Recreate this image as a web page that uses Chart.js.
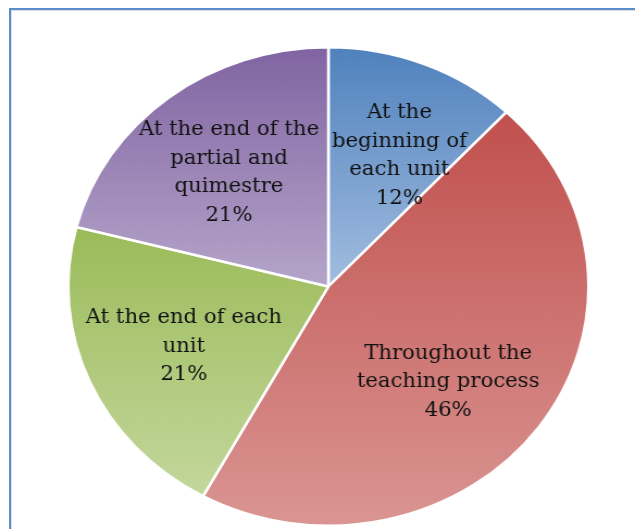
<!DOCTYPE html>
<html>
<head>
<meta charset="utf-8">
<script src="https://cdn.jsdelivr.net/npm/chart.js@4.4.0/dist/chart.umd.min.js"></script>
<style>
  html, body { margin: 0; padding: 0; background: #fff; overflow: hidden; }
  #wrap { position: relative; width: 635px; height: 529px; }
  #frame {
    position: absolute; left: 9px; top: 8px; width: 700px; height: 600px;
    border: 2px solid #5b8bcf; box-shadow: inset 1px 1px 0 #e0e0e0;
  }
  #stretch {
    position: absolute; left: 0; top: 0; width: 584px; height: 529px;
    transform: scaleX(1.0873); transform-origin: 0 0;
  }
</style>
</head>
<body>
<div id="wrap">
  <div id="frame"></div>
  <div id="stretch"><canvas id="pie" width="584" height="529"></canvas></div>
</div>
<script>
const categories = [
  ['At the', 'beginning of', 'each unit'],
  ['Throughout the', 'teaching process'],
  ['At the end of each', 'unit'],
  ['At the end of the', 'partial and', 'quimestre']
];
const percents = [12, 46, 21, 21];
const topColors = ['#4f81bd', '#c0504d', '#9bbb59', '#8064a2'];
const bottomColors = ['#a2bde0', '#da9593', '#c3d79c', '#b5a5ca'];

// small angular nudge (deg) so labels sit where the original put them
const labelNudge = [5, 5, -1, -1];

function sliceAngles(i) {
  const total = percents.reduce((a, b) => a + b, 0);
  let start = 0;
  for (let k = 0; k < i; k++) start += percents[k];
  return [start / total * 2 * Math.PI, (start + percents[i]) / total * 2 * Math.PI];
}

function gradientFor(c) {
  const area = c.chart.chartArea;
  const i = c.dataIndex;
  if (!area) return topColors[i];
  const cy = (area.top + area.bottom) / 2;
  const r = Math.min(area.right - area.left, area.bottom - area.top) / 2;
  const [a0, a1] = sliceAngles(i);
  // vertical extent of the slice (angles measured clockwise from top)
  const ys = [cy];
  const pts = [a0, a1];
  for (let k = 0; k <= 4; k++) {
    const a = k * Math.PI / 2;
    if (a > a0 && a < a1) pts.push(a);
  }
  pts.forEach(a => ys.push(cy - r * Math.cos(a)));
  const g = c.chart.ctx.createLinearGradient(0, Math.min(...ys), 0, Math.max(...ys));
  g.addColorStop(0, topColors[i]);
  g.addColorStop(1, bottomColors[i]);
  return g;
}

const labelPlugin = {
  id: 'sliceLabels',
  afterDatasetsDraw(chart) {
    const ctx = chart.ctx;
    const meta = chart.getDatasetMeta(0);
    ctx.save();
    ctx.font = '19.5px "DejaVu Serif"';
    ctx.fillStyle = '#111111';
    ctx.textAlign = 'center';
    ctx.textBaseline = 'middle';
    const lh = 28.5;
    meta.data.forEach((arc, i) => {
      const mid = (arc.startAngle + arc.endAngle) / 2 + labelNudge[i] * Math.PI / 180;
      const d = arc.outerRadius * 0.61;
      const x = arc.x + Math.cos(mid) * d;
      const y = arc.y + Math.sin(mid) * d;
      const lines = categories[i].concat([percents[i] + '%']);
      const y0 = y - (lines.length - 1) * lh / 2;
      lines.forEach((t, k) => ctx.fillText(t, x, y0 + k * lh));
    });
    ctx.restore();
  }
};

new Chart(document.getElementById('pie').getContext('2d'), {
  type: 'pie',
  data: {
    labels: categories.map(c => c.join(' ')),
    datasets: [{
      data: percents,
      backgroundColor: gradientFor,
      borderColor: '#ffffff',
      borderWidth: 2.5
    }]
  },
  options: {
    responsive: false,
    animation: false,
    layout: { padding: { left: 20, right: 0, top: 46, bottom: 2 } },
    plugins: {
      legend: { display: false },
      tooltip: { enabled: false }
    }
  },
  plugins: [labelPlugin]
});
</script>
</body>
</html>
